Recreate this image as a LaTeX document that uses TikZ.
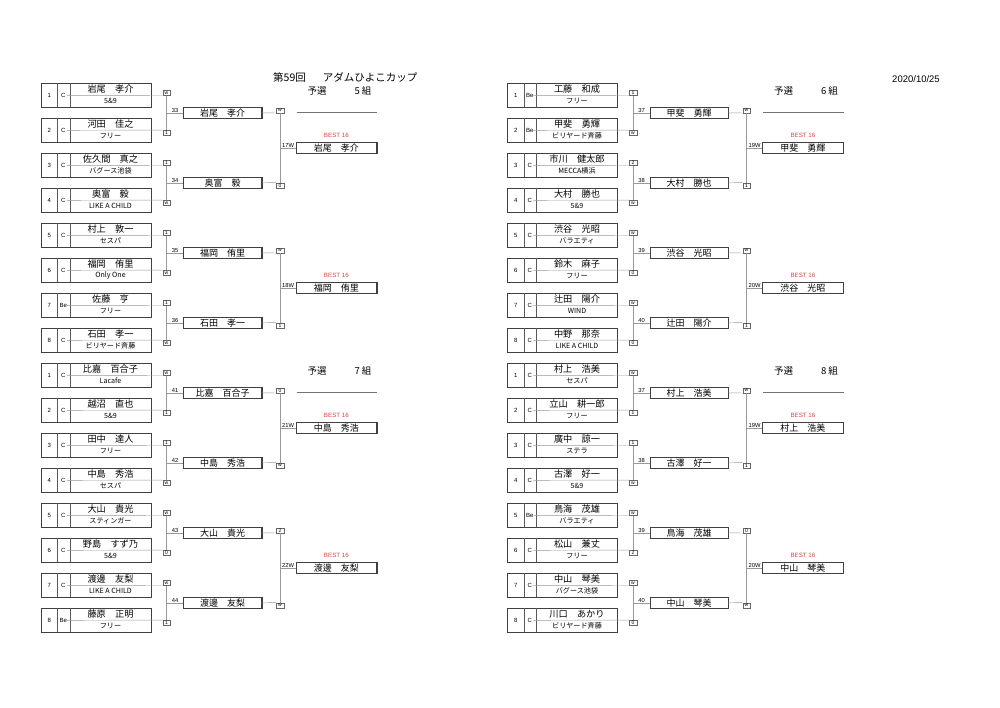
\documentclass[tikz,border=0pt]{standalone}
\usepackage{fontspec}
\setmainfont{Noto Sans CJK JP}
\newfontfamily\lat{Liberation Sans}
\usetikzlibrary{calc}
\definecolor{bestred}{RGB}{215,70,70}
\tikzset{
 pbox/.style={draw=black!75, line width=0.55pt, minimum width=110pt, minimum height=24pt, inner sep=0pt},
 wbox/.style={draw=black!75, line width=0.55pt, minimum width=78.4pt, minimum height=11pt, inner sep=0pt, font=\fontsize{9}{9}\selectfont},
 bbox/.style={draw=black!75, line width=0.55pt, minimum width=80.7pt, minimum height=11pt, inner sep=0pt, font=\fontsize{9}{9}\selectfont},
 shd/.style={draw=black!75, line width=0.95pt},
 div/.style={draw=black!65, line width=0.45pt},
 conn/.style={draw=black!40, line width=0.45pt},
 sbox/.style={draw=black!60, line width=0.4pt, minimum width=7.5pt, minimum height=5pt, inner sep=0pt, font=\lat\fontsize{5}{5}\selectfont},
 numt/.style={inner sep=0pt, font=\lat\fontsize{6}{6}\selectfont},
 namet/.style={inner sep=0pt, font=\fontsize{9.2}{9.2}\selectfont},
 teamt/.style={inner sep=0pt, font=\fontsize{7.1}{7.1}\selectfont},
 mlab/.style={inner sep=0pt, font=\lat\fontsize{5.8}{5.8}\selectfont},
 best/.style={inner sep=0pt, text=bestred, font=\lat\fontsize{6.2}{6.2}\selectfont},
 hd/.style={inner sep=0pt, font=\fontsize{9.5}{9.5}\selectfont},
 hline/.style={draw=black!55, line width=1.2pt},
}
% #1 group, #2 index, #3 class, #4 name, #5 team, #6 score
\newcommand\mkplayer[6]{%
  \pgfmathsetmacro\myTy{83.3+(#2-1)*35}%
  \pgfmathsetmacro\myMy{\myTy+12}%
  \pgfmathtruncatemacro\myOdd{mod(#2,2)}%
  \node[pbox] (#1p#2) at (96,\myMy) {};
  \draw[shd] (#1p#2.south west) -- (#1p#2.south east) -- (#1p#2.north east);
  \draw[div] (57.3,\myTy) -- (57.3,{\myTy+24});
  \draw[div] (70,\myTy) -- (70,{\myTy+24});
  \node[numt] (#1p#2no) at (49.2,\myMy) {#2};
  \node[numt] (#1p#2cl) at (63.3,\myMy) {#3};
  \node[namet] (#1p#2nm) at (110.5,{\myTy+6}) {#4};
  \node[teamt] (#1p#2tm) at (110.5,{\myTy+17.6}) {#5};
  \coordinate (#1p#2m) at (66.8,\myMy);
  \ifnum\myOdd=1
    \node[sbox] (#1p#2s) at (166.5,{\myMy-2.5}) {#6};
    \draw[conn] (#1p#2m) -- (#1p#2s.south west);
  \else
    \node[sbox] (#1p#2s) at (166.5,{\myMy+2.5}) {#6};
    \draw[conn] (#1p#2m) -- (#1p#2s.north west);
  \fi
}
% #1 group, #2 k, #3 match no, #4 name, #5 score
\newcommand\mkround[5]{%
  \pgfmathsetmacro\myWy{112.8+(#2-1)*70}%
  \pgfmathtruncatemacro\myA{2*#2-1}%
  \pgfmathtruncatemacro\myB{2*#2}%
  \pgfmathtruncatemacro\myOdd{mod(#2,2)}%
  \draw[conn] (#1p\myA s.south) -- (#1p\myB s.north);
  \node[wbox] (#1w#2) at (222.5,\myWy) {#4};
  \draw[shd] (#1w#2.south west) -- (#1w#2.south east) -- (#1w#2.north east);
  \draw[conn] ($(#1p\myA s.south)!.5!(#1p\myB s.north)$) -- (#1w#2.west);
  \node[mlab, anchor=south east, xshift=-4.5pt, yshift=0.4pt] (#1w#2l) at (#1w#2.west) {#3};
  \ifnum\myOdd=1
    \node[sbox] (#1w#2s) at (280,{\myWy-2.5}) {#5};
    \draw[conn] (#1w#2.east) -- (#1w#2s.south west);
  \else
    \node[sbox] (#1w#2s) at (280,{\myWy+2.5}) {#5};
    \draw[conn] (#1w#2.east) -- (#1w#2s.north west);
  \fi
}
% #1 group, #2 m, #3 label, #4 name
\newcommand\mkfinal[4]{%
  \pgfmathtruncatemacro\myA{2*#2-1}%
  \pgfmathtruncatemacro\myB{2*#2}%
  \pgfmathsetmacro\myBy{147.8+(#2-1)*140}%
  \draw[conn] (#1w\myA s.south) -- (#1w\myB s.north);
  \node[bbox] (#1b#2) at (336.4,\myBy) {#4};
  \draw[shd] (#1b#2.south west) -- (#1b#2.south east) -- (#1b#2.north east);
  \draw[conn] ($(#1w\myA s.south)!.5!(#1w\myB s.north)$) -- (#1b#2.west);
  \node[mlab, anchor=south east, xshift=-1.5pt, yshift=0.4pt] (#1b#2l) at (#1b#2.west) {#3};
  \node[best, yshift=6.5pt] (#1b#2t) at (#1b#2.north) {BEST 16};
}
% #1 group, #2 number
\newcommand\mkhead[2]{%
  \node[hd] (#1h1) at (317,91) {予選};
  \node[hd] (#1h2) at (363,91) {#2 組};
  \draw[hline] (296.5,112.7) -- (377.3,112.7);
}
\begin{document}
\begin{tikzpicture}[x=1pt,y=-1pt]
\useasboundingbox (0,0) rectangle (1000,707);
\fill[white] (0,0) rectangle (1000,707);
\node[anchor=west, inner sep=0pt, font=\fontsize{10.5}{10.5}\selectfont] (title) at (273,77.5) {第59回\hspace{17pt}アダムひよこカップ};
\node[inner sep=0pt, font=\lat\fontsize{9.5}{9.5}\selectfont] (date) at (916,79) {2020/10/25};

\begin{scope}
\mkplayer{A}{1}{C}{岩尾　孝介}{5\&9}{w}
\mkplayer{A}{2}{C}{河田　佳之}{フリー}{1}
\mkplayer{A}{3}{C}{佐久間　真之}{バグース池袋}{1}
\mkplayer{A}{4}{C}{奥富　毅}{LIKE A CHILD}{w}
\mkplayer{A}{5}{C}{村上　敦一}{セスパ}{1}
\mkplayer{A}{6}{C}{福岡　侑里}{Only One}{w}
\mkplayer{A}{7}{Be}{佐藤　亨}{フリー}{1}
\mkplayer{A}{8}{C}{石田　孝一}{ビリヤード斉藤}{w}
\mkround{A}{1}{33}{岩尾　孝介}{w}
\mkround{A}{2}{34}{奥富　毅}{0}
\mkround{A}{3}{35}{福岡　侑里}{w}
\mkround{A}{4}{36}{石田　孝一}{1}
\mkfinal{A}{1}{17W}{岩尾　孝介}
\mkfinal{A}{2}{18W}{福岡　侑里}
\mkhead{A}{5}
\end{scope}

\begin{scope}[shift={(466.5,0)}]
\mkplayer{B}{1}{Be}{工藤　和成}{フリー}{1}
\mkplayer{B}{2}{Be}{甲斐　勇輝}{ビリヤード斉藤}{w}
\mkplayer{B}{3}{C}{市川　健太郎}{MECCA横浜}{2}
\mkplayer{B}{4}{C}{大村　勝也}{5\&9}{w}
\mkplayer{B}{5}{C}{渋谷　光昭}{バラエティ}{w}
\mkplayer{B}{6}{C}{鈴木　麻子}{フリー}{0}
\mkplayer{B}{7}{C}{辻田　陽介}{WIND}{w}
\mkplayer{B}{8}{C}{中野　那奈}{LIKE A CHILD}{0}
\mkround{B}{1}{37}{甲斐　勇輝}{w}
\mkround{B}{2}{38}{大村　勝也}{1}
\mkround{B}{3}{39}{渋谷　光昭}{w}
\mkround{B}{4}{40}{辻田　陽介}{1}
\mkfinal{B}{1}{19W}{甲斐　勇輝}
\mkfinal{B}{2}{20W}{渋谷　光昭}
\mkhead{B}{6}
\end{scope}

\begin{scope}[shift={(0,280)}]
\mkplayer{C}{1}{C}{比嘉　百合子}{Lacafe}{w}
\mkplayer{C}{2}{C}{越沼　直也}{5\&9}{1}
\mkplayer{C}{3}{C}{田中　達人}{フリー}{1}
\mkplayer{C}{4}{C}{中島　秀浩}{セスパ}{w}
\mkplayer{C}{5}{C}{大山　貴光}{スティンガー}{w}
\mkplayer{C}{6}{C}{野島　すず乃}{5\&9}{0}
\mkplayer{C}{7}{C}{渡邊　友梨}{LIKE A CHILD}{w}
\mkplayer{C}{8}{Be}{藤原　正明}{フリー}{1}
\mkround{C}{1}{41}{比嘉　百合子}{0}
\mkround{C}{2}{42}{中島　秀浩}{w}
\mkround{C}{3}{43}{大山　貴光}{2}
\mkround{C}{4}{44}{渡邊　友梨}{w}
\mkfinal{C}{1}{21W}{中島　秀浩}
\mkfinal{C}{2}{22W}{渡邊　友梨}
\mkhead{C}{7}
\end{scope}

\begin{scope}[shift={(466.5,280)}]
\mkplayer{D}{1}{C}{村上　浩美}{セスパ}{w}
\mkplayer{D}{2}{C}{立山　耕一郎}{フリー}{1}
\mkplayer{D}{3}{C}{廣中　諒一}{ステラ}{1}
\mkplayer{D}{4}{C}{古澤　好一}{5\&9}{w}
\mkplayer{D}{5}{Be}{鳥海　茂雄}{バラエティ}{w}
\mkplayer{D}{6}{C}{松山　兼丈}{フリー}{2}
\mkplayer{D}{7}{C}{中山　琴美}{バグース池袋}{w}
\mkplayer{D}{8}{C}{川口　あかり}{ビリヤード斉藤}{0}
\mkround{D}{1}{37}{村上　浩美}{w}
\mkround{D}{2}{38}{古澤　好一}{1}
\mkround{D}{3}{39}{鳥海　茂雄}{0}
\mkround{D}{4}{40}{中山　琴美}{w}
\mkfinal{D}{1}{19W}{村上　浩美}
\mkfinal{D}{2}{20W}{中山　琴美}
\mkhead{D}{8}
\end{scope}
\end{tikzpicture}
\end{document}
